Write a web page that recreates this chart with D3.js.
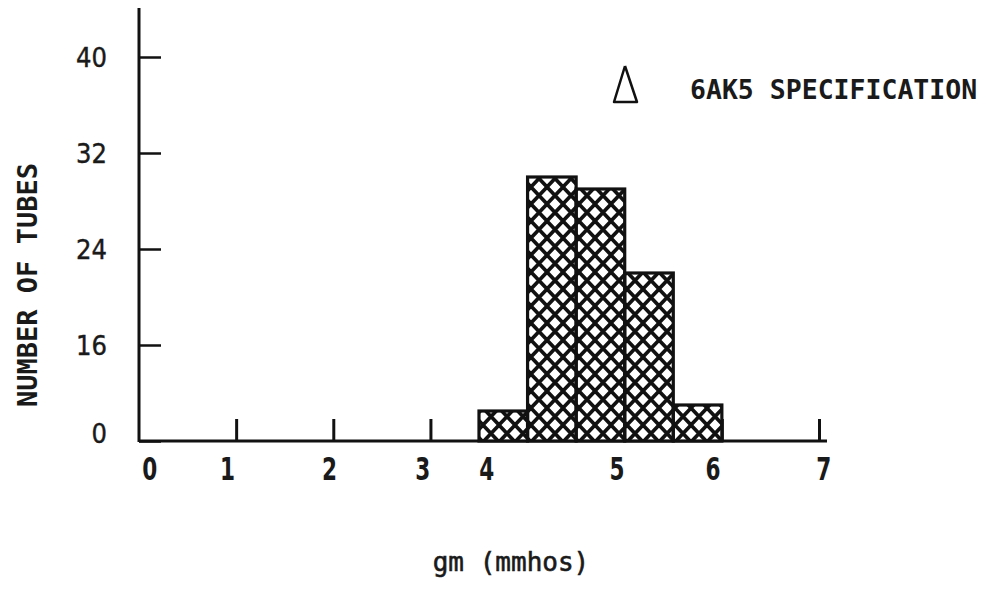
<!DOCTYPE html>
<html>
<head>
<meta charset="utf-8">
<script src="https://cdn.jsdelivr.net/npm/d3@7"></script>
<style>
  body { margin: 0; background: #fff; }
</style>
</head>
<body>
<div id="chart"></div>
<script>
var width = 987;
var height = 593;

// histogram bins (gm in mmhos) and tube counts
var binEdges = [3.5, 4.0, 4.5, 5.0, 5.5, 6.0];
var counts = [5, 30, 29, 22, 6];

// axis ticks
var yTicks = [0, 16, 24, 32, 40];
var xTicks = [1, 2, 3, 4, 5, 6, 7];
// x labels are hand lettered, not exactly under the ticks
var xLabels = ["0", "1", "2", "3", "4", "5", "6", "7"];
var xLabelAt = [0.11, 0.91, 1.96, 2.92, 3.58, 4.92, 5.91, 7.05];

var legendText = "6AK5 SPECIFICATION";

const svg = d3.select("#chart")
    .append("svg")
    .attr("width", width)
    .attr("height", height);

var x = d3.scaleLinear().domain([0, 7]).range([139, 819]);
// broken axis: 0 sits where 8 would be
var y = d3.scaleLinear().domain([0, 16, 40]).range([441, 345, 57]);

// cross hatch pattern
var pw = 16, ph = 17;
var defs = svg.append("defs");
defs.append("pattern")
    .attr("id", "hatch")
    .attr("patternUnits", "userSpaceOnUse")
    .attr("width", pw)
    .attr("height", ph)
    .attr("x", 3)
    .append("path")
    .attr("d", "M0,0L" + pw + "," + ph +
        "M0," + (-ph) + "L" + (2 * pw) + "," + ph +
        "M" + (-pw) + ",0L" + pw + "," + (2 * ph) +
        "M" + pw + ",0L0," + ph +
        "M" + (-pw) + "," + ph + "L" + pw + "," + (-ph) +
        "M0," + (2 * ph) + "L" + (2 * pw) + ",0")
    .attr("stroke", "#111")
    .attr("stroke-width", 3.6)
    .attr("fill", "none");

// x axis with ticks pointing up
svg.append("g")
    .attr("transform", "translate(0," + y(0) + ")")
    .call(d3.axisBottom(x).tickValues(xTicks).tickSize(-22).tickFormat(""))
    .call(function (g) {
        g.select(".domain").attr("d", "M139,0H827").attr("stroke", "#111").attr("stroke-width", 3);
        g.selectAll(".tick line").attr("stroke", "#111").attr("stroke-width", 3);
    });

// y axis with ticks pointing right
svg.append("g")
    .attr("transform", "translate(139,0)")
    .call(d3.axisLeft(y).tickValues(yTicks).tickSize(-22).tickFormat(""))
    .call(function (g) {
        g.select(".domain").attr("d", "M0,8V442").attr("stroke", "#111").attr("stroke-width", 3);
        g.selectAll(".tick line").attr("stroke", "#111").attr("stroke-width", 2.5);
    });

// bars
var bins = counts.map(function (c, i) { return { x0: binEdges[i], x1: binEdges[i + 1], n: c }; });

svg.selectAll(".barbg")
    .data(bins)
    .enter().append("rect")
    .attr("class", "barbg")
    .attr("x", function (d) { return x(d.x0); })
    .attr("y", function (d) { return y(d.n); })
    .attr("width", function (d) { return x(d.x1) - x(d.x0); })
    .attr("height", function (d) { return y(0) - y(d.n); })
    .attr("fill", "#fff");

svg.selectAll(".bar")
    .data(bins)
    .enter().append("rect")
    .attr("class", "bar")
    .attr("x", function (d) { return x(d.x0); })
    .attr("y", function (d) { return y(d.n); })
    .attr("width", function (d) { return x(d.x1) - x(d.x0); })
    .attr("height", function (d) { return y(0) - y(d.n); })
    .attr("fill", "url(#hatch)")
    .attr("stroke", "#111")
    .attr("stroke-width", 3.2);

// y tick labels
svg.selectAll(".ylab")
    .data(yTicks)
    .enter().append("text")
    .attr("class", "ylab")
    .attr("x", 107)
    .attr("y", function (d) { return d === 0 ? y(d) - 8 : y(d); })
    .attr("dy", "0.36em")
    .attr("text-anchor", "end")
    .attr("font-family", "'DejaVu Sans Condensed', 'DejaVu Sans', sans-serif")
    .attr("font-size", 27)
    .attr("fill", "#1a1a1a")
    .attr("stroke", "#1a1a1a")
    .attr("stroke-width", 0.4)
    .text(function (d) { return d; });

// x tick labels, narrow and tall
svg.selectAll(".xlab")
    .data(xLabels)
    .enter().append("text")
    .attr("class", "xlab")
    .attr("transform", function (d, i) { return "translate(" + x(xLabelAt[i]) + ",480) scale(0.75,1)"; })
    .attr("text-anchor", "middle")
    .attr("font-family", "'DejaVu Sans Condensed', 'DejaVu Sans', sans-serif")
    .attr("font-weight", "bold")
    .attr("font-size", 32)
    .attr("fill", "#1a1a1a")
    .text(function (d) { return d; });

// axis titles
svg.append("text")
    .attr("transform", "translate(37,285) rotate(-90)")
    .attr("text-anchor", "middle")
    .attr("font-family", "'DejaVu Sans Mono', monospace")
    .attr("font-weight", "bold")
    .attr("font-size", 27)
    .attr("fill", "#1a1a1a")
    .text("NUMBER OF TUBES");

svg.append("text")
    .attr("x", 511)
    .attr("y", 571)
    .attr("text-anchor", "middle")
    .attr("font-family", "'DejaVu Sans Mono', monospace")
    .attr("font-size", 26)
    .attr("fill", "#1a1a1a")
    .attr("stroke", "#1a1a1a")
    .attr("stroke-width", 0.6)
    .text("gm (mmhos)");

// legend
svg.append("path")
    .attr("d", d3.line()([[625, 66], [637, 102], [614, 102], [625, 66]]))
    .attr("fill", "none")
    .attr("stroke", "#111")
    .attr("stroke-width", 2.5)
    .attr("stroke-linejoin", "round");

svg.append("text")
    .attr("x", 690)
    .attr("y", 99)
    .attr("font-family", "'DejaVu Sans Mono', monospace")
    .attr("font-size", 26.5)
    .attr("font-weight", 600)
    .attr("fill", "#1a1a1a")
    .text(legendText);
</script>
</body>
</html>
